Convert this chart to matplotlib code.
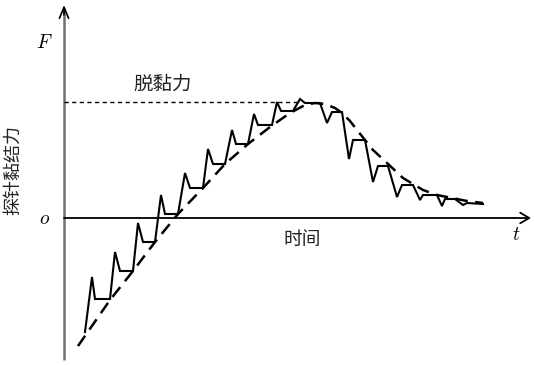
import matplotlib
matplotlib.use('Agg')
import matplotlib.pyplot as plt

plt.rcParams['mathtext.fontset'] = 'cm'
cjk = ['Noto Sans CJK SC', 'DejaVu Sans']

# measured probe force (stick-slip), t / F in arbitrary units, origin at (0, 0)
t_meas = [21, 28, 31, 46, 51, 56, 69, 74, 79, 91, 97, 101, 114, 121, 126, 139,
          144, 149, 161, 168, 172, 184, 190, 194, 208, 213, 217, 229, 236, 241,
          256, 263, 268, 278, 285, 289, 301, 309, 314, 324, 333, 338, 349, 356,
          359, 373, 378, 381, 391, 399, 403, 419]
F_meas = [-114, -59, -81, -81, -34, -53, -53, -5, -24, -24, 23, 4, 4, 45, 30, 30,
          69, 54, 54, 88, 74, 74, 104, 93, 93, 116, 107, 107, 119, 115,
          115, 95, 106, 106, 59, 78, 78, 36, 52, 52, 21, 33, 33, 18,
          23, 23, 12, 19, 19, 13, 15, 14]

# averaged trend
t_trend = [14, 46, 69, 91, 114, 139, 161, 184, 206, 226, 241, 251, 261, 271,
           278, 286, 293, 301, 309, 323, 339, 359, 373, 403, 419]
F_trend = [-128, -82, -53, -24, 4, 30, 54, 74, 91, 105, 113, 115, 114, 110,
           105, 97, 88, 78, 68, 55, 40, 28, 23, 17, 15]

F_pull = 116   # pull-off force level
t_pull_end = 236

fig = plt.figure(figsize=(5.34, 3.65), dpi=100)
ax = fig.add_axes([0, 0, 1, 1])
ax.set_xlim(-64, 470)
ax.set_ylim(-147, 218)
ax.axis('off')

# F axis: grey shaft, black open head
ax.plot([0, 0], [-142, 210], color='#707070', lw=1.8, solid_capstyle='butt')
ax.annotate('', xy=(0, 213), xytext=(0, 203),
            arrowprops=dict(arrowstyle='->,head_length=0.8,head_width=0.33',
                            lw=1.2, color='black', shrinkA=0, shrinkB=0))
# t axis
ax.annotate('', xy=(467, 0), xytext=(0, 0),
            arrowprops=dict(arrowstyle='->,head_length=0.65,head_width=0.38',
                            lw=1.3, color='black', shrinkA=0, shrinkB=0))

ax.plot([0, t_pull_end], [F_pull, F_pull], color='black', lw=1.0,
        linestyle=(0, (3, 2.5)))
ax.plot(t_trend, F_trend, color='black', lw=1.8, linestyle=(0, (5, 3)))
ax.plot(t_meas, F_meas, color='black', lw=1.5, solid_joinstyle='miter')

ax.text(-20, 176, '$F$', fontsize=14, ha='center', va='center')
ax.text(-19, -1, '$o$', fontsize=14, ha='center', va='center')
ax.text(452, -17, '$t$', fontsize=14, ha='center', va='center')
ax.text(99, 134, '脱黏力', family=cjk, fontsize=14, ha='center', va='center',
        color='#222222')
ax.text(238, -22, '时间', family=cjk, fontsize=13.5, ha='center', va='center',
        color='#222222')
ax.text(-51, 48, '探针黏结力', family=cjk, fontsize=13, ha='center',
        va='center', rotation=90, color='#222222')

fig.savefig('out.png', dpi=100)
